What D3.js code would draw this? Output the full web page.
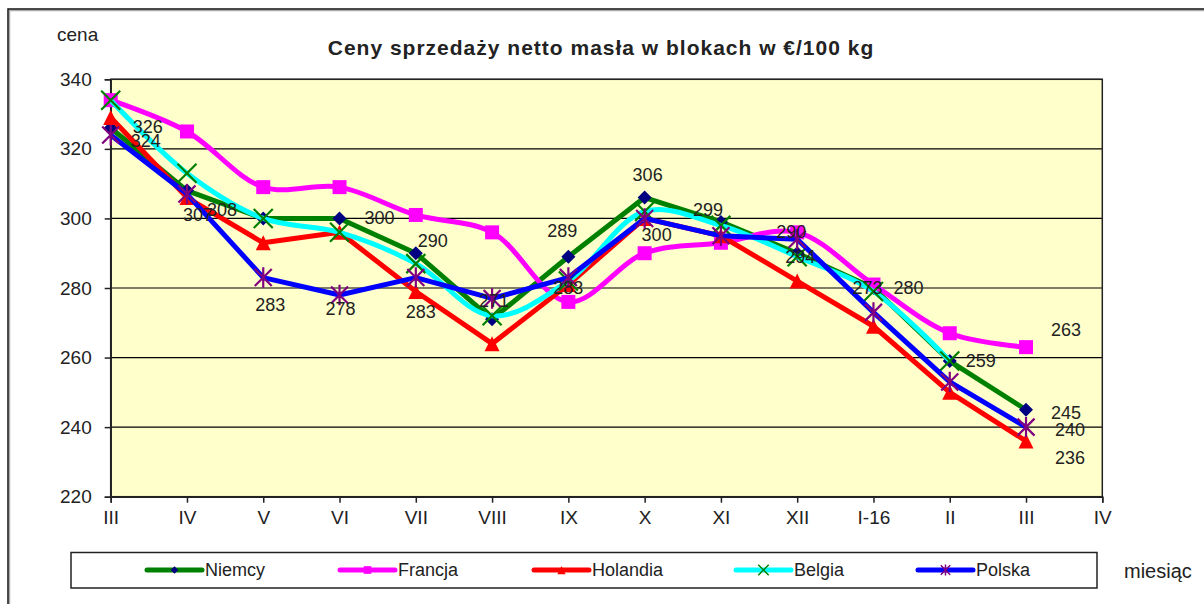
<!DOCTYPE html>
<html>
<head>
<meta charset="utf-8">
<script src="https://cdn.jsdelivr.net/npm/d3@7"></script>
<style>
  body { margin: 0; background: #fff; }
  text { font-family: Arial, "Liberation Sans", sans-serif; fill: #222; }
</style>
</head>
<body>
<svg></svg>
<script>
// monthly butter prices, EUR/100 kg

var months = ["III", "IV", "V", "VI", "VII", "VIII", "IX", "X", "XI", "XII", "I-16", "II", "III", "IV"];
var niemcy   = [326, 308, 300, 300, 290, 271, 289, 306, 299, 290, 280, 259, 245];
var francja  = [334, 325, 309, 309, 301, 296, 276, 290, 293, 296, 281, 267, 263];
var holandia = [329, 306, 293, 296, 279, 264, 281, 300, 295, 282, 269, 250, 236];
var belgia   = [334, 313, 300, 296, 287, 272, 282, 302, 298, 289, 279, 259, null];
var polska   = [324, 307, 283, 278, 283, 277, 283, 300, 295, 294, 273, 253, 240];
var yTicks = [220, 240, 260, 280, 300, 320, 340];

var svgWidth = 1204, svgHeight = 604;
var plotLeft = 110.7, plotRight = 1102.3, plotTop = 79.3, plotBottom = 496.7;

var svg = d3.select("svg")
    .attr("width", svgWidth)
    .attr("height", svgHeight);

// outer frame (right and bottom edge run off the picture)
svg.append("rect")
    .attr("x", 9.5).attr("y", 10.5)
    .attr("width", 1300).attr("height", 700)
    .attr("fill", "none").attr("stroke", "#aaa").attr("stroke-width", 1.5);
svg.append("rect")
    .attr("x", 8).attr("y", 9)
    .attr("width", 1300).attr("height", 700)
    .attr("fill", "none").attr("stroke", "#111").attr("stroke-width", 1.5);

var x = d3.scaleLinear().domain([0, months.length - 1]).range([plotLeft, plotRight]);
var y = d3.scaleLinear().domain([220, 340]).range([plotBottom, plotTop]);

// plot area
svg.append("rect")
    .attr("x", plotLeft).attr("y", plotTop)
    .attr("width", plotRight - plotLeft).attr("height", plotBottom - plotTop)
    .attr("fill", "#ffffcc");

svg.append("g")
    .selectAll("line")
    .data(yTicks)
    .enter()
    .append("line")
    .attr("x1", plotLeft).attr("x2", plotRight)
    .attr("y1", function(d) { return y(d); })
    .attr("y2", function(d) { return y(d); })
    .attr("stroke", "#000").attr("stroke-width", 1.2);

svg.append("rect")
    .attr("x", plotLeft).attr("y", plotTop)
    .attr("width", plotRight - plotLeft).attr("height", plotBottom - plotTop)
    .attr("fill", "none").attr("stroke", "#222").attr("stroke-width", 1.5);

var yAxis = d3.axisLeft(y).tickValues(yTicks).tickSize(6).tickPadding(13);
var gy = svg.append("g").attr("transform", "translate(" + plotLeft + ",0)").call(yAxis);

var xAxis = d3.axisBottom(x).tickValues(d3.range(months.length))
    .tickFormat(function(i) { return months[i]; })
    .tickSize(6).tickPadding(8);
var gx = svg.append("g").attr("transform", "translate(0," + plotBottom + ")").call(xAxis);

[gx, gy].forEach(function(g) {
    g.select(".domain").attr("stroke", "#222").attr("stroke-width", 1.5);
    g.selectAll(".tick line").attr("stroke", "#222").attr("stroke-width", 1.5);
    g.selectAll(".tick text").attr("font-size", 19).attr("fill", "#222")
        .attr("font-family", "Arial, 'Liberation Sans', sans-serif");
});

// markers
function marker(kind, s) {
    var h = s / 2;
    if (kind == "diamond") return "M0," + (-h) + "L" + h + ",0L0," + h + "L" + (-h) + ",0Z";
    if (kind == "square") return "M" + (-h) + "," + (-h) + "H" + h + "V" + h + "H" + (-h) + "Z";
    if (kind == "triangle") return "M0," + (-h) + "L" + h + "," + h + "L" + (-h) + "," + h + "Z";
    if (kind == "x") return "M" + (-h) + "," + (-h) + "L" + h + "," + h + "M" + (-h) + "," + h + "L" + h + "," + (-h);
    return "M" + (-h) + "," + (-h) + "L" + h + "," + h + "M" + (-h) + "," + h + "L" + h + "," + (-h) +
        "M0," + (-h * 1.2) + "V" + (h * 1.2);
}

var series = [
    { name: "Niemcy",   values: niemcy,   line: "#008000", mark: "#000080", kind: "diamond",  size: 14, smooth: false },
    { name: "Francja",  values: francja,  line: "#ff00ff", mark: "#ff00ff", kind: "square",   size: 14, smooth: true },
    { name: "Holandia", values: holandia, line: "#ff0000", mark: "#ff0000", kind: "triangle", size: 15, smooth: false },
    { name: "Belgia",   values: belgia,   line: "#00ffff", mark: "#008000", kind: "x",        size: 19, smooth: true },
    { name: "Polska",   values: polska,   line: "#0000ff", mark: "#800080", kind: "star",     size: 17, smooth: false }
];

series.forEach(function(s) {
    var line = d3.line()
        .defined(function(d) { return d != null; })
        .x(function(d, i) { return x(i); })
        .y(function(d) { return y(d); })
        .curve(s.smooth ? d3.curveCatmullRom.alpha(0.5) : d3.curveLinear);

    svg.append("path")
        .datum(s.values)
        .attr("d", line)
        .attr("fill", "none")
        .attr("stroke", s.line)
        .attr("stroke-width", 5)
        .attr("stroke-linejoin", "round");

    var stroked = s.kind == "x" || s.kind == "star";
    svg.append("g")
        .selectAll("path")
        .data(s.values.map(function(v, i) { return [i, v]; }).filter(function(d) { return d[1] != null; }))
        .enter()
        .append("path")
        .attr("transform", function(d) { return "translate(" + x(d[0]) + "," + y(d[1]) + ")"; })
        .attr("d", marker(s.kind, s.size))
        .attr("fill", stroked ? "none" : s.mark)
        .attr("stroke", s.mark)
        .attr("stroke-width", stroked ? 2.2 : 0);
});

// data labels: series index, point index, offset of the text centre
var labels = [
    [0, 0, 37, -1], [4, 0, 35, 6],
    [0, 1, 35, 19], [4, 1, 11, 21],
    [4, 2, 7, 27],
    [4, 3, 1, 14], [0, 3, 40, 0],
    [0, 4, 17, -12], [4, 4, 5, 34],
    [0, 5, 2, -18],
    [0, 6, -6, -26], [4, 6, 0, 10],
    [0, 7, 3, -23], [4, 7, 12, 17],
    [0, 8, -13, -12],
    [0, 9, -6, -21], [4, 9, 3, 18],
    [4, 10, -6, -24], [0, 10, 35, 0],
    [0, 11, 31, 0],
    [1, 12, 40, -17], [0, 12, 40, 3], [4, 12, 44, 3], [2, 12, 44, 17]
];

svg.append("g")
    .selectAll("text")
    .data(labels)
    .enter()
    .append("text")
    .attr("x", function(d) { return x(d[1]) + d[2]; })
    .attr("y", function(d) { return y(series[d[0]].values[d[1]]) + d[3]; })
    .attr("text-anchor", "middle")
    .attr("dominant-baseline", "central")
    .attr("font-size", 18)
    .text(function(d) { return series[d[0]].values[d[1]]; });

// titles
svg.append("text")
    .attr("x", 601).attr("y", 47)
    .attr("text-anchor", "middle")
    .attr("dominant-baseline", "central")
    .attr("font-size", 21).attr("font-weight", "bold")
    .attr("letter-spacing", 1)
    .attr("fill", "#000")
    .text("Ceny sprzedaży netto masła w blokach  w €/100 kg");

svg.append("text")
    .attr("x", 57).attr("y", 34)
    .attr("dominant-baseline", "central")
    .attr("font-size", 19)
    .text("cena");

svg.append("text")
    .attr("x", 1124).attr("y", 571)
    .attr("dominant-baseline", "central")
    .attr("font-size", 20)
    .text("miesiąc");

// legend
svg.append("rect")
    .attr("x", 71).attr("y", 552.5)
    .attr("width", 1026).attr("height", 35.5)
    .attr("fill", "#fff").attr("stroke", "#222").attr("stroke-width", 1.5);

var legendX = [147, 340, 534, 736, 918];
var legend = svg.append("g")
    .selectAll("g")
    .data(series)
    .enter()
    .append("g")
    .attr("transform", function(d, i) { return "translate(" + legendX[i] + ",570)"; });

legend.append("line")
    .attr("x1", 0).attr("x2", 55)
    .attr("stroke", function(d) { return d.line; })
    .attr("stroke-width", 5)
    .attr("stroke-linecap", "round");

legend.append("path")
    .attr("transform", "translate(27.5,0)")
    .attr("d", function(d) { return marker(d.kind, d.size * 0.55); })
    .attr("fill", function(d) { return d.kind == "x" || d.kind == "star" ? "none" : d.mark; })
    .attr("stroke", function(d) { return d.mark; })
    .attr("stroke-width", function(d) { return d.kind == "x" || d.kind == "star" ? 1.5 : 0; });

legend.append("text")
    .attr("x", 58)
    .attr("dominant-baseline", "central")
    .attr("font-size", 18)
    .text(function(d) { return d.name; });
</script>
</body>
</html>
